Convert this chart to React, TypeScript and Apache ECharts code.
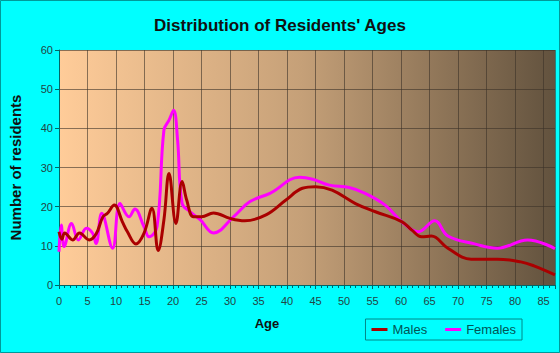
import React, { useEffect, useRef } from "react";
import * as echarts from "echarts";

const maleAges = [0, 0.5, 1, 2.4, 3.6, 5.3, 6.5, 7.7, 8.5, 9.7, 11.1, 12, 13.5, 14.9, 16.3, 17.4, 18.4, 19.3, 20.5, 21.6, 22.4, 23.6, 25, 27.1, 30, 32.6, 36.3, 39.8, 42.7, 45, 47.9, 52, 55.5, 60.1, 61.9, 63.6, 65.3, 68.2, 72.3, 76.9, 81, 83.3, 87];
const maleValues = [13.6, 11.7, 13.3, 11.5, 13.3, 11.5, 13, 17.4, 18.3, 20.4, 16.2, 13.6, 10.5, 13.2, 19.6, 8.8, 16.6, 28.5, 15.7, 26.4, 21.7, 17.4, 17.4, 18.4, 17, 16.4, 17.9, 21.7, 24.7, 25.1, 24.2, 20.8, 18.7, 16.2, 14, 12.3, 12.5, 9.4, 6.6, 6.6, 5.9, 4.9, 2.6];

const femaleAges = [0, 0.4, 0.9, 2.2, 3.4, 4.8, 5.9, 6.5, 7.5, 9.4, 10.7, 12.3, 13.3, 14.9, 15.8, 17.2, 18.4, 19.3, 20.1, 20.8, 21.6, 23, 24.8, 27.1, 30.6, 33.5, 37, 42.2, 44.5, 47.4, 50.9, 53.7, 57.2, 60.1, 63, 65.9, 68.2, 72.9, 76.9, 82.2, 87];
const femaleValues = [8.5, 15.3, 9.8, 15.7, 11.5, 14.5, 13.2, 10.6, 18.3, 9.4, 20.8, 17.4, 19.4, 14.9, 12.3, 14.9, 39.5, 42.1, 44.6, 37, 20.8, 18.7, 16.6, 13.3, 17.4, 21.3, 23.4, 27.5, 27, 25.5, 24.9, 23.4, 20.4, 16.2, 13.6, 16.4, 12.5, 10.5, 9.4, 11.5, 9.3];

const xMin = 0;
const xMax = 87;
const xInterval = 5;
const yMin = 0;
const yMax = 60;
const yInterval = 10;

export default function App() {
  const ref = useRef<HTMLDivElement>(null);
  useEffect(() => {
    if (!ref.current) return;
    const chart = echarts.init(ref.current, null, { renderer: "svg" });
    const font = "'Liberation Sans', Arial, sans-serif";
    chart.setOption({
      animation: false,
      backgroundColor: "#00FFFF",
      title: {
        text: "Distribution of Residents' Ages",
        left: "center",
        top: 12,
        textStyle: { fontFamily: font, fontSize: 17, fontWeight: "bold", color: "#111" },
      },
      legend: {
        right: 38,
        bottom: 13,
        orient: "horizontal",
        itemWidth: 16,
        itemHeight: 3,
        itemGap: 18,
        borderColor: "#008888",
        borderWidth: 1,
        padding: [4, 6, 4, 6],
        icon: "rect",
        textStyle: { fontFamily: font, fontSize: 13, color: "#005555" },
        data: ["Males", "Females"],
      },
      grid: {
        left: 54,
        right: 5,
        top: 50,
        bottom: 68,
        show: true,
        borderWidth: 0,
        backgroundColor: new echarts.graphic.LinearGradient(0, 0, 1, 0, [
          { offset: 0, color: "#FFCC99" },
          { offset: 0.49, color: "#C5A078" },
          { offset: 1, color: "#62523E" },
        ]),
      },
      xAxis: {
        type: "value",
        min: xMin,
        max: xMax,
        interval: xInterval,
        name: "Age",
        nameLocation: "middle",
        nameGap: 32,
        nameTextStyle: { fontFamily: font, fontSize: 13, fontWeight: "bold", color: "#111", padding: [0, 80, 0, 0] },
        axisLine: { show: true, lineStyle: { color: "#006666", width: 1 } },
        axisTick: { show: true, length: 4, lineStyle: { color: "#006666" } },
        minorTick: { show: true, splitNumber: 5, length: 3, lineStyle: { color: "#006666" } },
        axisLabel: { fontFamily: font, fontSize: 11, color: "#224444", margin: 10, showMaxLabel: false },
        splitLine: { show: true, lineStyle: { color: "rgba(60,50,40,0.6)", width: 1 } },
      },
      yAxis: {
        type: "value",
        min: yMin,
        max: yMax,
        interval: yInterval,
        name: "Number of residents",
        nameLocation: "middle",
        nameGap: 36,
        nameTextStyle: { fontFamily: font, fontSize: 15, fontWeight: "bold", color: "#111" },
        axisLine: { show: true, lineStyle: { color: "#006666", width: 1 } },
        axisTick: { show: true, length: 4, lineStyle: { color: "#006666" } },
        axisLabel: { fontFamily: font, fontSize: 11, color: "#224444", margin: 6 },
        splitLine: { show: true, lineStyle: { color: "rgba(60,50,40,0.6)", width: 1 } },
      },
      series: [
        {
          name: "Males",
          type: "line",
          smooth: 0.4,
          symbol: "none",
          color: "#AA0000",
          lineStyle: { width: 3, color: "#AA0000" },
          data: maleAges.map((a, i) => [a, maleValues[i]]),
          z: 3,
        },
        {
          name: "Females",
          type: "line",
          smooth: 0.4,
          symbol: "none",
          color: "#FF00FF",
          lineStyle: { width: 3, color: "#FF00FF" },
          data: femaleAges.map((a, i) => [a, femaleValues[i]]),
          z: 2,
        },
      ],
      graphic: [
        {
          type: "rect",
          shape: { x: 0.5, y: 0.5, width: 559, height: 352 },
          style: { fill: "none", stroke: "#009999", lineWidth: 1 },
          silent: true,
        },
      ],
    });
    return () => chart.dispose();
  }, []);
  return <div ref={ref} style={{ width: 560, height: 353, position: "absolute", left: 0, top: 0 }} />;
}
